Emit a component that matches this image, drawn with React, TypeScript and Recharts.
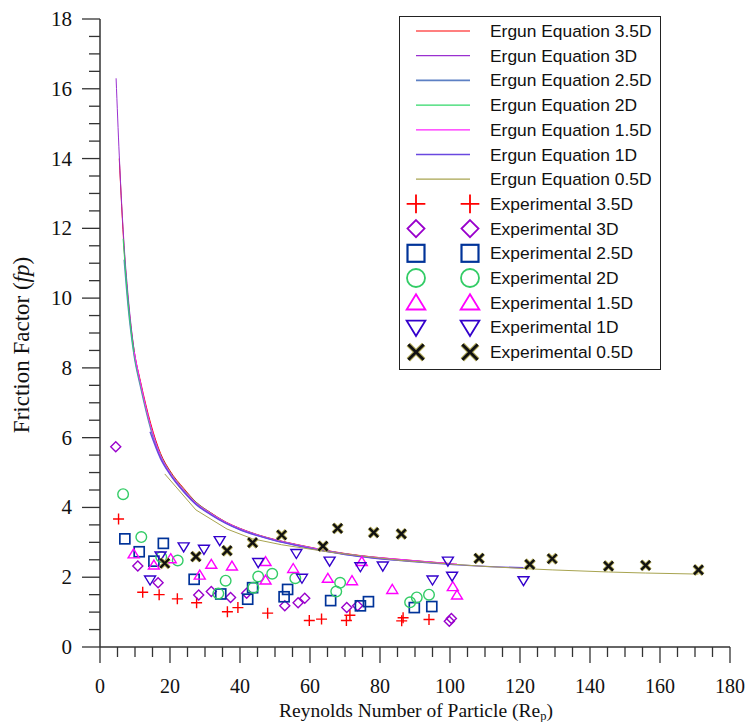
import { ComposedChart, Line, Scatter, XAxis, YAxis, Legend, Label } from "recharts";

// Ergun equation curves (Re_p, f_p)
const ergun35 = [
  { x: 5.5, y: 14.0 }, { x: 6.9, y: 11.4 }, { x: 8, y: 10.0 }, { x: 9.75, y: 8.5 }, { x: 11.6, y: 7.6 },
  { x: 14.5, y: 6.4 }, { x: 17.3, y: 5.55 }, { x: 20, y: 5.05 }, { x: 23.9, y: 4.55 }, { x: 27.5, y: 4.15 },
  { x: 31.5, y: 3.86 }, { x: 36, y: 3.58 }, { x: 40, y: 3.4 }, { x: 45, y: 3.22 }, { x: 50, y: 3.08 },
  { x: 56.6, y: 2.93 }, { x: 63, y: 2.8 }, { x: 70, y: 2.68 }, { x: 78, y: 2.58 }, { x: 86.9, y: 2.5 },
  { x: 94, y: 2.44 }, { x: 100, y: 2.39 },
];
const ergun3 = [
  { x: 4.6, y: 16.3 }, { x: 5.5, y: 14.1 }, { x: 6.9, y: 11.5 }, { x: 8, y: 10.1 }, { x: 9.75, y: 8.5 },
  { x: 11.6, y: 7.55 }, { x: 14.5, y: 6.32 }, { x: 17.3, y: 5.5 }, { x: 20, y: 5.0 }, { x: 23.9, y: 4.5 },
  { x: 27.5, y: 4.12 }, { x: 31.5, y: 3.84 }, { x: 36, y: 3.57 }, { x: 40, y: 3.39 }, { x: 45, y: 3.21 },
  { x: 50, y: 3.07 }, { x: 56.6, y: 2.92 }, { x: 63, y: 2.79 }, { x: 70, y: 2.67 }, { x: 78, y: 2.57 },
  { x: 86.9, y: 2.49 }, { x: 94, y: 2.43 }, { x: 101, y: 2.38 },
];
const ergun25 = [
  { x: 6.9, y: 11.1 }, { x: 8, y: 9.8 }, { x: 9.75, y: 8.35 }, { x: 11.6, y: 7.45 }, { x: 14.5, y: 6.25 },
  { x: 17.3, y: 5.45 }, { x: 20, y: 4.97 }, { x: 23.9, y: 4.47 }, { x: 27.5, y: 4.1 }, { x: 31.5, y: 3.82 },
  { x: 36, y: 3.55 }, { x: 40, y: 3.37 }, { x: 45, y: 3.2 }, { x: 50, y: 3.06 }, { x: 56.6, y: 2.91 },
  { x: 63, y: 2.78 }, { x: 70, y: 2.66 }, { x: 78, y: 2.56 }, { x: 86.9, y: 2.48 }, { x: 95, y: 2.42 },
];
const ergun2 = [
  { x: 6.6, y: 11.7 }, { x: 8, y: 9.9 }, { x: 9.75, y: 8.4 }, { x: 11.6, y: 7.5 }, { x: 14.5, y: 6.3 },
  { x: 17.3, y: 5.5 }, { x: 20, y: 5.02 }, { x: 23.9, y: 4.52 }, { x: 27.5, y: 4.14 }, { x: 31.5, y: 3.85 },
  { x: 36, y: 3.57 }, { x: 40, y: 3.39 }, { x: 45, y: 3.21 }, { x: 50, y: 3.07 }, { x: 56.6, y: 2.92 },
  { x: 63, y: 2.79 }, { x: 70, y: 2.67 }, { x: 78, y: 2.57 }, { x: 86.9, y: 2.49 }, { x: 94, y: 2.43 },
];
const ergun15 = [
  { x: 9.75, y: 8.46 }, { x: 11.6, y: 7.55 }, { x: 14.5, y: 6.32 }, { x: 17.3, y: 5.48 }, { x: 20, y: 5.0 },
  { x: 23.9, y: 4.5 }, { x: 27.5, y: 4.12 }, { x: 31.5, y: 3.84 }, { x: 36, y: 3.57 }, { x: 40, y: 3.39 },
  { x: 45, y: 3.21 }, { x: 50, y: 3.07 }, { x: 56.6, y: 2.92 }, { x: 63, y: 2.79 }, { x: 70, y: 2.67 },
  { x: 78, y: 2.58 }, { x: 86.9, y: 2.5 }, { x: 94, y: 2.44 }, { x: 102, y: 2.38 },
];
const ergun1 = [
  { x: 14.3, y: 6.17 }, { x: 17.3, y: 5.4 }, { x: 20, y: 4.95 }, { x: 23.9, y: 4.45 }, { x: 27.5, y: 4.08 },
  { x: 31.5, y: 3.8 }, { x: 36, y: 3.54 }, { x: 40, y: 3.36 }, { x: 45, y: 3.19 }, { x: 50, y: 3.05 },
  { x: 56.6, y: 2.9 }, { x: 63, y: 2.77 }, { x: 70, y: 2.65 }, { x: 78, y: 2.55 }, { x: 86.9, y: 2.47 },
  { x: 94, y: 2.41 }, { x: 101, y: 2.36 }, { x: 110, y: 2.31 }, { x: 121, y: 2.27 },
];
const ergun05 = [
  { x: 18.5, y: 4.96 }, { x: 27.4, y: 3.93 }, { x: 36.3, y: 3.38 }, { x: 43.6, y: 3.1 }, { x: 51.9, y: 2.93 },
  { x: 63.7, y: 2.75 }, { x: 67.9, y: 2.69 }, { x: 78.2, y: 2.57 }, { x: 86, y: 2.48 }, { x: 108.3, y: 2.32 },
  { x: 122.8, y: 2.24 }, { x: 129.2, y: 2.21 }, { x: 145.3, y: 2.15 }, { x: 155.9, y: 2.12 }, { x: 171, y: 2.09 },
];

// experimental points
const exp35 = [
  { x: 5.3, y: 3.67 }, { x: 12.2, y: 1.57 }, { x: 16.9, y: 1.5 }, { x: 22.1, y: 1.38 }, { x: 27.6, y: 1.27 },
  { x: 36.4, y: 1.01 }, { x: 39.4, y: 1.13 }, { x: 47.9, y: 0.97 }, { x: 59.8, y: 0.76 }, { x: 63.3, y: 0.8 },
  { x: 70.4, y: 0.76 }, { x: 71.4, y: 0.91 }, { x: 86.2, y: 0.75 }, { x: 86.6, y: 0.84 }, { x: 94, y: 0.79 },
];
const exp3 = [
  { x: 4.5, y: 5.74 }, { x: 10.8, y: 2.32 }, { x: 16.6, y: 1.84 }, { x: 28.2, y: 1.49 }, { x: 31.8, y: 1.59 },
  { x: 37.3, y: 1.42 }, { x: 41.9, y: 1.54 }, { x: 52.8, y: 1.18 }, { x: 56.6, y: 1.27 }, { x: 58.5, y: 1.4 },
  { x: 70.5, y: 1.13 }, { x: 73.6, y: 1.18 }, { x: 99.8, y: 0.74 }, { x: 100.4, y: 0.82 },
];
const exp25 = [
  { x: 7.1, y: 3.1 }, { x: 11.2, y: 2.73 }, { x: 15.4, y: 2.46 }, { x: 18.1, y: 2.97 }, { x: 26.9, y: 1.94 },
  { x: 34.5, y: 1.52 }, { x: 42.2, y: 1.37 }, { x: 43.6, y: 1.7 }, { x: 52.6, y: 1.44 }, { x: 53.6, y: 1.65 },
  { x: 65.9, y: 1.33 }, { x: 74.4, y: 1.18 }, { x: 76.7, y: 1.3 }, { x: 89.8, y: 1.13 }, { x: 94.8, y: 1.16 },
];
const exp2 = [
  { x: 6.6, y: 4.38 }, { x: 11.8, y: 3.15 }, { x: 17.5, y: 2.58 }, { x: 22.2, y: 2.48 }, { x: 33.8, y: 1.53 },
  { x: 35.9, y: 1.9 }, { x: 43.8, y: 1.7 }, { x: 45.2, y: 2.02 }, { x: 49.2, y: 2.1 }, { x: 55.8, y: 1.97 },
  { x: 67.5, y: 1.59 }, { x: 68.6, y: 1.84 }, { x: 88.6, y: 1.28 }, { x: 90.5, y: 1.42 }, { x: 94, y: 1.5 },
];
const exp15 = [
  { x: 9.6, y: 2.67 }, { x: 15.4, y: 2.35 }, { x: 20.2, y: 2.53 }, { x: 28.5, y: 2.06 }, { x: 31.8, y: 2.37 },
  { x: 37.7, y: 2.32 }, { x: 47.3, y: 2.45 }, { x: 47.3, y: 1.92 }, { x: 55.2, y: 2.25 }, { x: 65.1, y: 1.97 },
  { x: 72.0, y: 1.9 }, { x: 74.8, y: 2.45 }, { x: 83.5, y: 1.65 }, { x: 100.8, y: 1.73 }, { x: 102, y: 1.49 },
];
const exp1 = [
  { x: 14.3, y: 1.92 }, { x: 17.3, y: 2.61 }, { x: 23.9, y: 2.87 }, { x: 29.7, y: 2.8 }, { x: 34.2, y: 3.05 },
  { x: 45.2, y: 2.42 }, { x: 56.1, y: 2.68 }, { x: 57.7, y: 1.97 }, { x: 65.6, y: 2.46 }, { x: 74.4, y: 2.3 },
  { x: 80.8, y: 2.32 }, { x: 95, y: 1.92 }, { x: 99.4, y: 2.46 }, { x: 100.6, y: 2.03 }, { x: 121, y: 1.9 },
];
const exp05 = [
  { x: 18.5, y: 2.4 }, { x: 27.4, y: 2.59 }, { x: 36.3, y: 2.76 }, { x: 43.6, y: 2.99 }, { x: 51.9, y: 3.21 },
  { x: 63.7, y: 2.89 }, { x: 67.9, y: 3.4 }, { x: 78.2, y: 3.28 }, { x: 86.1, y: 3.24 }, { x: 108.3, y: 2.54 },
  { x: 122.8, y: 2.37 }, { x: 129.2, y: 2.53 }, { x: 145.3, y: 2.32 }, { x: 155.9, y: 2.34 }, { x: 171, y: 2.21 },
];

const xMajor = [0, 20, 40, 60, 80, 100, 120, 140, 160, 180];
const yMajor = [0, 2, 4, 6, 8, 10, 12, 14, 16, 18];
const xTicks: number[] = [];
for (let v = 0; v <= 180; v += 5) xTicks.push(v);
const yTicks: number[] = [];
for (let v = 0; v <= 18; v += 0.5) yTicks.push(v);

const serif = "'Liberation Serif', 'Times New Roman', serif";
const sans = "'Liberation Sans', Arial, sans-serif";
const axisColor = "#333";

type Kind = "plus" | "diamond" | "square" | "circle" | "up" | "down" | "cross";

const Marker = ({ kind, cx, cy, color, s = 1 }: { kind: Kind; cx: number; cy: number; color: string; s?: number }) => {
  const sw = 1.4 * (s > 1 ? 1.3 : 1);
  const p = { fill: "none", stroke: color, strokeWidth: sw };
  const t = (pts: number[][]) => pts.map(([a, b]) => `${cx + a * s},${cy + b * s}`).join(" ");
  switch (kind) {
    case "plus":
      return <path d={`M${cx - 5.5 * s},${cy}H${cx + 5.5 * s}M${cx},${cy - 5.5 * s}V${cy + 5.5 * s}`} {...p} />;
    case "diamond":
      return <polygon points={t([[0, -5], [5, 0], [0, 5], [-5, 0]])} {...p} />;
    case "square":
      return <rect x={cx - 5 * s} y={cy - 5 * s} width={10 * s} height={10 * s} {...p} strokeWidth={sw * 1.2} />;
    case "circle":
      return <circle cx={cx} cy={cy} r={5.3 * s} {...p} />;
    case "up":
      return <polygon points={t([[0, -5], [5.5, 4], [-5.5, 4]])} {...p} />;
    case "down":
      return <polygon points={t([[-5.5, -4], [5.5, -4], [0, 5]])} {...p} />;
    case "cross": {
      const d = `M${cx - 4.5 * s},${cy - 4.5 * s}L${cx + 4.5 * s},${cy + 4.5 * s}M${cx + 4.5 * s},${cy - 4.5 * s}L${cx - 4.5 * s},${cy + 4.5 * s}`;
      return (
        <g>
          <path d={d} stroke="#b8b060" strokeWidth={4.2 * (s > 1 ? 1.2 : 1)} fill="none" />
          <path d={d} stroke="#111" strokeWidth={2.4 * (s > 1 ? 1.2 : 1)} fill="none" />
        </g>
      );
    }
  }
  return null;
};

const lineSeries = [
  { name: "Ergun Equation 3.5D", data: ergun35, color: "#ff0000", width: 1, type: "monotone" },
  { name: "Ergun Equation 3D", data: ergun3, color: "#9a30d0", width: 1, type: "monotone" },
  { name: "Ergun Equation 2.5D", data: ergun25, color: "#5d80c4", width: 1.4, type: "monotone" },
  { name: "Ergun Equation 2D", data: ergun2, color: "#30d868", width: 1, type: "monotone" },
  { name: "Ergun Equation 1.5D", data: ergun15, color: "#ff22ff", width: 1, type: "monotone" },
  { name: "Ergun Equation 1D", data: ergun1, color: "#6a48e0", width: 1.4, type: "monotone" },
  { name: "Ergun Equation 0.5D", data: ergun05, color: "#a8a450", width: 1, type: "linear" },
];

const scatterSeries: { name: string; data: { x: number; y: number }[]; color: string; kind: Kind }[] = [
  { name: "Experimental 3.5D", data: exp35, color: "#ff0000", kind: "plus" },
  { name: "Experimental 3D", data: exp3, color: "#9900cc", kind: "diamond" },
  { name: "Experimental 2.5D", data: exp25, color: "#003399", kind: "square" },
  { name: "Experimental 2D", data: exp2, color: "#33cc66", kind: "circle" },
  { name: "Experimental 1.5D", data: exp15, color: "#ff00ff", kind: "up" },
  { name: "Experimental 1D", data: exp1, color: "#3300cc", kind: "down" },
  { name: "Experimental 0.5D", data: exp05, color: "#111", kind: "cross" },
];

const XTick = (props: any) => {
  const { x, y, payload } = props;
  const v = payload.value;
  const major = xMajor.includes(v);
  return (
    <g>
      <line x1={x} y1={y} x2={x} y2={y + (major ? 16 : 10)} stroke={axisColor} strokeWidth={1.3} />
      {major && (
        <text x={x} y={y + 46} textAnchor="middle" fontFamily={serif} fontSize={20} fill="#111">
          {v}
        </text>
      )}
    </g>
  );
};

const YTick = (props: any) => {
  const { x, y, payload } = props;
  const v = payload.value;
  const major = yMajor.includes(v);
  return (
    <g>
      <line x1={x} y1={y} x2={x - (major ? 18 : 11)} y2={y} stroke={axisColor} strokeWidth={1.3} />
      {major && (
        <text x={x - 28} y={y + 7} textAnchor="end" fontFamily={serif} fontSize={21} fill="#111">
          {v}
        </text>
      )}
    </g>
  );
};

const LegendBox = () => {
  const rowY = (i: number) => 15 + i * 24.7;
  return (
    <svg width={262} height={354} style={{ display: "block" }}>
      <rect x={0.5} y={0.5} width={261} height={353} fill="#fff" stroke="#222" strokeWidth={1} />
      {lineSeries.map((s, i) => (
        <g key={s.name}>
          <line x1={17} x2={71} y1={rowY(i)} y2={rowY(i)} stroke={s.color} strokeWidth={s.width * 1.2} />
          <text x={91} y={rowY(i) + 6} fontFamily={sans} fontSize={17.4} fill="#111">
            {s.name}
          </text>
        </g>
      ))}
      {scatterSeries.map((s, j) => {
        const i = j + 7;
        return (
          <g key={s.name}>
            <Marker kind={s.kind} cx={17} cy={rowY(i)} color={s.color} s={1.7} />
            <Marker kind={s.kind} cx={71} cy={rowY(i)} color={s.color} s={1.7} />
            <text x={91} y={rowY(i) + 6} fontFamily={sans} fontSize={17.4} fill="#111">
              {s.name}
            </text>
          </g>
        );
      })}
    </svg>
  );
};

export default function App() {
  return (
    <div style={{ position: "absolute", left: 0, top: 0, background: "#fff" }}>
      <ComposedChart width={746} height={722} margin={{ top: 19, right: 16, bottom: 15, left: 20 }}>
        <XAxis
          type="number"
          dataKey="x"
          domain={[0, 180]}
          ticks={xTicks}
          interval={0}
          tickSize={0}
          tickMargin={0}
          tickLine={false}
          tick={<XTick />}
          height={60}
          stroke={axisColor}
          strokeWidth={1.5}
        >
          <Label
            content={() => (
              <text x={416} y={717} textAnchor="middle" fontFamily={serif} fontSize={19.5} fill="#111">
                Reynolds Number of Particle (Re
                <tspan fontSize={12.5} dy={3}>p</tspan>
                <tspan dy={-3}>)</tspan>
              </text>
            )}
          />
        </XAxis>
        <YAxis
          type="number"
          dataKey="y"
          domain={[0, 18]}
          ticks={yTicks}
          interval={0}
          tickSize={0}
          tickMargin={0}
          tickLine={false}
          tick={<YTick />}
          width={80}
          stroke={axisColor}
          strokeWidth={1.5}
        >
          <Label
            content={() => (
              <text
                x={0}
                y={0}
                transform="translate(29,345) rotate(-90)"
                textAnchor="middle"
                fontFamily={serif}
                fontSize={23}
                fill="#111"
              >
                Friction Factor (<tspan fontStyle="italic">fp</tspan>)
              </text>
            )}
          />
        </YAxis>
        <Legend
          layout="vertical"
          align="center"
          verticalAlign="middle"
          content={() => <LegendBox />}
          wrapperStyle={{ left: 399, top: 16, width: 262, height: 354 }}
        />
        {lineSeries.map((s) => (
          <Line
            key={s.name}
            data={s.data}
            dataKey="y"
            type={s.type as any}
            stroke={s.color}
            strokeWidth={s.width}
            dot={false}
            activeDot={false}
            isAnimationActive={false}
          />
        ))}
        {scatterSeries.map((s) => (
          <Scatter
            key={s.name}
            data={s.data}
            dataKey="y"
            isAnimationActive={false}
            shape={(p: any) => <Marker kind={s.kind} cx={p.cx} cy={p.cy} color={s.color} />}
          />
        ))}
      </ComposedChart>
    </div>
  );
}
